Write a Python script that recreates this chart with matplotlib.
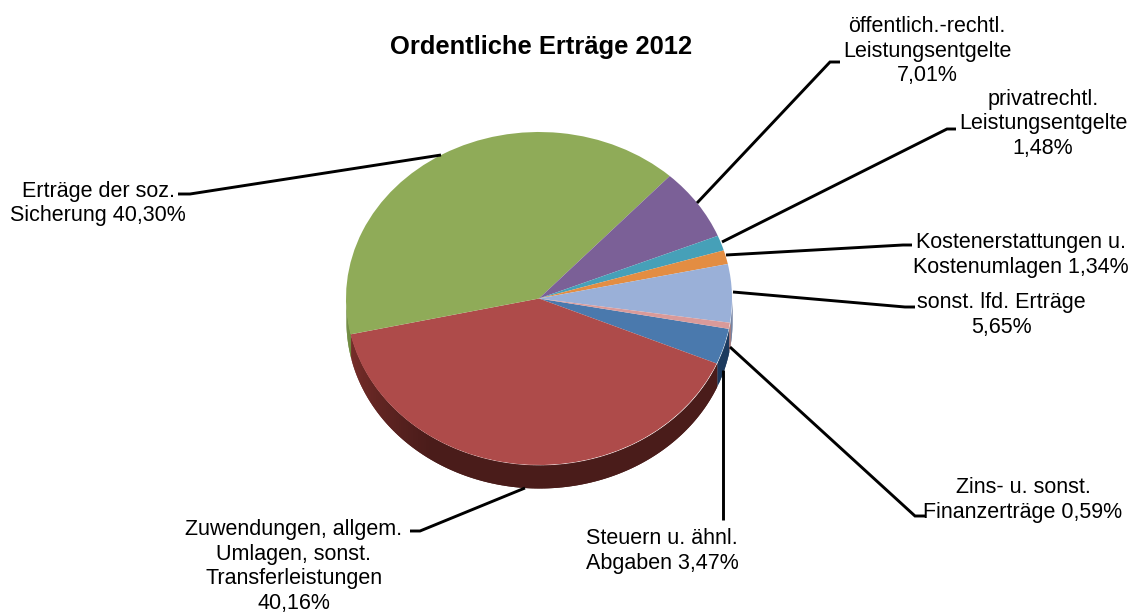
import numpy as np
import matplotlib
matplotlib.use("Agg")
import matplotlib.pyplot as plt

plt.rcParams['font.family'] = ['Liberation Sans', 'DejaVu Sans']

W, H = 1130, 614
cx, cy, rx, ry = 539., 298.5, 193., 166.5
depth = 23. / ry

# clockwise, starting at the right edge
values = [3.47, 40.16, 40.30, 7.01, 1.48, 1.34, 5.65, 0.59]
top_colors = ['#4a79ad', '#ae4b4a', '#8fab58', '#7b6097', '#46a0b8', '#e38d42', '#9ab0d8', '#d99a9a']
side_colors = ['#1c3a5e', '#4a1c1a', '#6f8a3f', '#5a4570', '#2f7486', '#a8642c', '#6f7fa0', '#a06c6c']
start = -10.5

labels = ['Steuern u. ähnl.\nAbgaben 3,47%',
          'Zuwendungen, allgem.\nUmlagen, sonst.\nTransferleistungen\n40,16%',
          'Erträge der soz.\nSicherung 40,30%',
          'öffentlich.-rechtl.\nLeistungsentgelte\n7,01%',
          'privatrechtl.\nLeistungsentgelte\n1,48%',
          'Kostenerstattungen u.\nKostenumlagen 1,34%',
          'sonst. lfd. Erträge\n5,65%',
          'Zins- u. sonst.\nFinanzerträge 0,59%']
label_x = [662, 294, 98, 927, 1043, 1021, 1001, 1023]
label_y = [551, 566.5, 203.5, 51, 124, 255, 315, 500]
leaders = [[(723, 370), (723, 520)],
           [(525, 488), (420, 531), (410, 531)],
           [(441, 155), (190, 194), (178, 194)],
           [(697, 203), (830, 62), (840, 62)],
           [(722, 242), (947, 129), (956, 129)],
           [(726, 255), (903, 245), (912, 245)],
           [(733, 292), (905, 307), (915, 307)],
           [(730, 347), (915, 516), (925, 516)]]

fig = plt.figure(figsize=(W / 100, H / 100), dpi=100)

# pie axes: unit circle is stretched to the ellipse
ax = fig.add_axes([0, 0, 1, 1])
ax.pie(values, colors=top_colors, startangle=start, counterclock=False,
       radius=1, center=(0, 0), wedgeprops={'linewidth': 0}, normalize=True, frame=False)
ax.set_aspect('auto')
ax.set_xlim((0 - cx) / rx, (W - cx) / rx)
ax.set_ylim((cy - H) / ry, cy / ry)
ax.axis('off')

# side wall of the 3d pie, drawn in strips, lighter towards the left on the big slice
ends = start - np.cumsum(values) * 3.6
begins = np.r_[start, ends[:-1]]
for a0, a1, c in zip(begins, ends, side_colors):
    a0, a1 = a0 % 360, a1 % 360
    if a0 <= a1:
        a0 += 360
    lo, hi = max(a1, 180), min(a0, 360)
    if hi <= lo:
        continue
    base = np.array(matplotlib.colors.to_rgb(c))
    steps = np.linspace(lo, hi, int(hi - lo) + 2)
    for s0, s1 in zip(steps[:-1], steps[1:]):
        t = np.radians(np.linspace(s0, min(s1 + 1, hi), 5))
        x = np.cos(t)
        y = np.sin(t)
        f = 1.0
        if c == '#4a1c1a':
            f = 1 + 0.65 * np.clip((235 - s0) / 45, 0, 1)
        ax.fill_between(x, y - depth, y, color=np.clip(base * f, 0, 1), lw=0, antialiased=False, zorder=0.5)

# pixel axes for text and leader lines
ov = fig.add_axes([0, 0, 1, 1])
ov.set_xlim(0, W)
ov.set_ylim(H, 0)
ov.axis('off')
ov.patch.set_alpha(0)

for pts in leaders:
    xs, ys = zip(*pts)
    ov.plot(xs, ys, color='black', lw=2.1, solid_capstyle='butt', solid_joinstyle='miter')
for t, x, y in zip(labels, label_x, label_y):
    ov.text(x, y, t, ha='center', va='center', fontsize=15.5, linespacing=1.22, color='black')
ov.text(541, 47, 'Ordentliche Erträge 2012', ha='center', va='center', fontsize=18.4, fontweight='bold')

fig.savefig('out.png', dpi=100)
